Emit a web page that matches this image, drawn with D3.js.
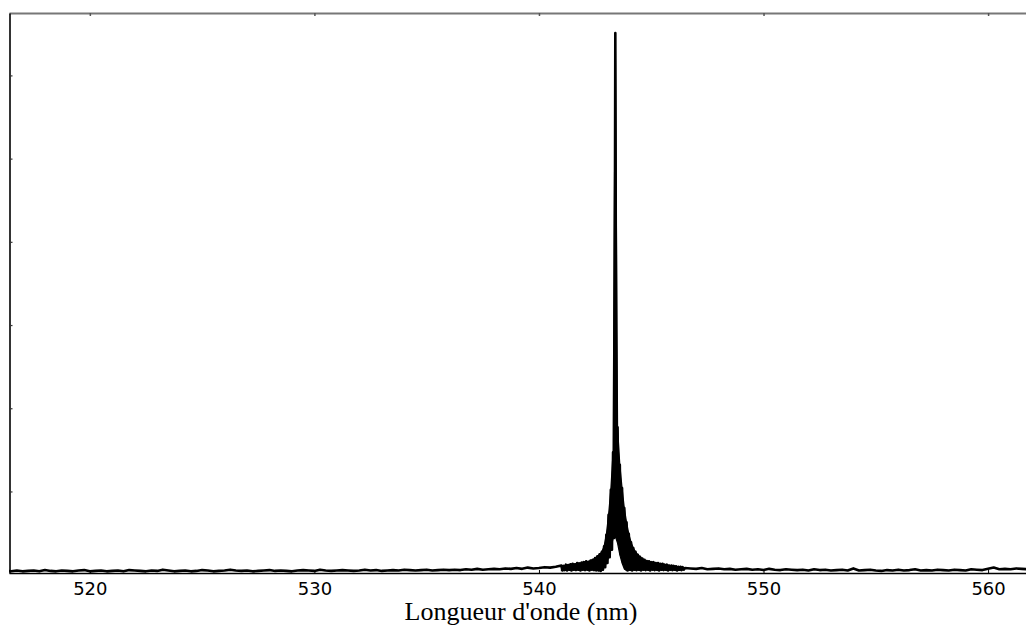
<!DOCTYPE html>
<html>
<head>
<meta charset="utf-8">
<script src="https://cdn.jsdelivr.net/npm/d3@7"></script>
<style>
  html, body { margin: 0; padding: 0; background: #fff; }
  svg { display: block; }
</style>
</head>
<body>
<svg id="chart" width="1026" height="625"></svg>
<script>
// ---- Data ----
// wavelength sampling of the three spectrum segments: start nm and step nm
const segStarts = [516.25, 541.0, 546.5];
const segSteps = [0.25, 0.05, 0.25];

// segment A : 516.25 .. 540.75 nm (baseline)
const intensityA = [
  0.05,0.04,0.05,0.04,0.045,0.05,0.04,0.055,0.045,0.04,
  0.05,0.045,0.04,0.05,0.055,0.04,0.045,0.05,0.04,0.045,
  0.05,0.04,0.055,0.05,0.045,0.04,0.05,0.045,0.06,0.05,
  0.04,0.045,0.05,0.04,0.045,0.055,0.05,0.04,0.045,0.05,
  0.06,0.05,0.045,0.05,0.04,0.045,0.05,0.055,0.045,0.05,
  0.045,0.04,0.05,0.055,0.05,0.045,0.06,0.05,0.045,0.05,
  0.055,0.05,0.045,0.05,0.06,0.05,0.055,0.045,0.05,0.055,
  0.05,0.06,0.055,0.05,0.055,0.06,0.05,0.055,0.06,0.055,
  0.06,0.055,0.065,0.06,0.07,0.06,0.065,0.07,0.065,0.075,
  0.07,0.08,0.07,0.085,0.075,0.08,0.09,0.085,0.095
];
// segment B : 541.00 .. 546.45 nm (noisy line wings and peak; high/low pairs)
const intensityB = [
  0.11,0.05, 0.105,0.055, 0.12,0.05, 0.115,0.06, 0.125,0.05,
  0.13,0.06, 0.125,0.055, 0.14,0.06, 0.135,0.05, 0.145,0.06,
  0.15,0.055, 0.16,0.06, 0.155,0.05, 0.17,0.06, 0.18,0.055,
  0.20,0.05, 0.22,0.05, 0.245,0.045, 0.275,0.06, 0.34,0.09,
  0.48,0.14, 0.72,0.21, 1.02,0.30, 1.47,0.44, 6.51,0.46,
  1.77,0.38, 1.32,0.24, 1.04,0.14, 0.80,0.07, 0.63,0.05,
  0.49,0.06, 0.39,0.05, 0.32,0.06, 0.275,0.055, 0.24,0.06,
  0.215,0.05, 0.195,0.06, 0.18,0.055, 0.165,0.06, 0.16,0.05,
  0.15,0.06, 0.15,0.055, 0.14,0.06, 0.14,0.05, 0.13,0.06,
  0.13,0.055, 0.12,0.06, 0.12,0.05, 0.11,0.06, 0.11,0.055,
  0.105,0.06, 0.10,0.05, 0.095,0.06, 0.095,0.055, 0.09,0.06
];
// segment C : 546.50 .. 562.00 nm (baseline)
const intensityC = [
  0.08,0.075,0.07,0.08,0.065,0.07,0.075,0.065,0.07,0.06,
  0.065,0.07,0.06,0.065,0.055,0.07,0.06,0.055,0.065,0.06,
  0.055,0.06,0.05,0.065,0.055,0.06,0.05,0.055,0.06,0.05,
  0.075,0.05,0.055,0.06,0.05,0.045,0.055,0.05,0.06,0.05,
  0.055,0.065,0.05,0.055,0.05,0.06,0.055,0.05,0.06,0.055,
  0.05,0.065,0.06,0.055,0.07,0.085,0.065,0.07,0.065,0.075,
  0.07,0.065,0.07
];

const xTicks = [520, 530, 540, 550, 560];
const xTickLabels = ["520", "530", "540", "550", "560"];
const yTicks = [1, 2, 3, 4, 5, 6];
const xDomain = [516.4, 562.0];
const yDomain = [0.02, 6.75];
const xTitle = "Longueur d'onde (nm)";

// ---- Build the series ----
const segIntensities = [intensityA, intensityB, intensityC];
const spectrum = [];
segIntensities.forEach((arr, s) => {
  arr.forEach((v, i) => spectrum.push({ wl: segStarts[s] + segSteps[s] * i, v }));
});
// high/low envelope of the dense noisy segment B (pairs of consecutive samples)
const bandB = [];
for (let k = 0; k + 1 < intensityB.length; k += 2) {
  bandB.push({ wl: segStarts[1] + segSteps[1] * k, hi: intensityB[k], lo: intensityB[k + 1] });
}

// ---- Layout ----
const mLeft = 9, mTop = 13, mRight = 1033, mBottom = 573;
const svg = d3.select("#chart");
const x = d3.scaleLinear().domain(xDomain).range([mLeft, mRight]);
const y = d3.scaleLinear().domain(yDomain).range([mBottom, mTop]);

svg.append("defs").append("clipPath").attr("id", "clip")
  .append("rect").attr("x", mLeft).attr("y", mTop)
  .attr("width", mRight - mLeft).attr("height", mBottom - mTop + 3);

const plot = svg.append("g").attr("clip-path", "url(#clip)");

// dense noise band
plot.append("path")
  .datum(bandB)
  .attr("fill", "#000")
  .attr("stroke", "#000")
  .attr("stroke-width", 1.2)
  .attr("d", d3.area().x(d => x(d.wl)).y0(d => y(d.lo)).y1(d => y(d.hi)));

// spectrum trace
plot.append("path")
  .datum(spectrum)
  .attr("fill", "none")
  .attr("stroke", "#000")
  .attr("stroke-width", 2.6)
  .attr("stroke-linejoin", "round")
  .attr("d", d3.line().x(d => x(d.wl)).y(d => y(d.v)));

// top axis (gray spine, inward ticks, no labels)
const gTop = svg.append("g").attr("transform", `translate(0,${mTop})`)
  .call(d3.axisTop(x).tickValues(xTicks).tickSizeInner(-3).tickSizeOuter(0).tickFormat(""));
gTop.select(".domain").attr("stroke", "#777").attr("stroke-width", 2);
gTop.selectAll(".tick line").attr("stroke", "#555").attr("stroke-width", 1.5);

// left axis (inward ticks; its labels fall outside the canvas)
const gLeft = svg.append("g").attr("transform", `translate(${mLeft + 0.5},0)`)
  .call(d3.axisLeft(y).tickValues(yTicks).tickSizeInner(-3).tickSizeOuter(0).tickFormat(""));
gLeft.select(".domain").attr("stroke", "#000").attr("stroke-width", 1.6);
gLeft.selectAll(".tick line").attr("stroke", "#333").attr("stroke-width", 1.2);

// bottom axis
const gBot = svg.append("g").attr("transform", `translate(0,${mBottom})`)
  .call(d3.axisBottom(x).tickValues(xTicks).tickSizeInner(-3).tickSizeOuter(0)
    .tickFormat((d, i) => xTickLabels[i]));
gBot.select(".domain").attr("stroke", "#000").attr("stroke-width", 1.5);
gBot.selectAll(".tick line").attr("stroke", "#000");
gBot.selectAll(".tick text")
  .attr("y", 22).attr("dy", 0)
  .attr("fill", "#000")
  .style("font-family", "'DejaVu Sans', sans-serif")
  .style("font-size", "18px");

// x title
svg.append("text")
  .attr("x", (mLeft + mRight) / 2)
  .attr("y", 620)
  .attr("text-anchor", "middle")
  .style("font-family", "'Liberation Serif', 'DejaVu Serif', serif")
  .style("font-size", "26px")
  .attr("fill", "#000")
  .text(xTitle);
</script>
</body>
</html>
